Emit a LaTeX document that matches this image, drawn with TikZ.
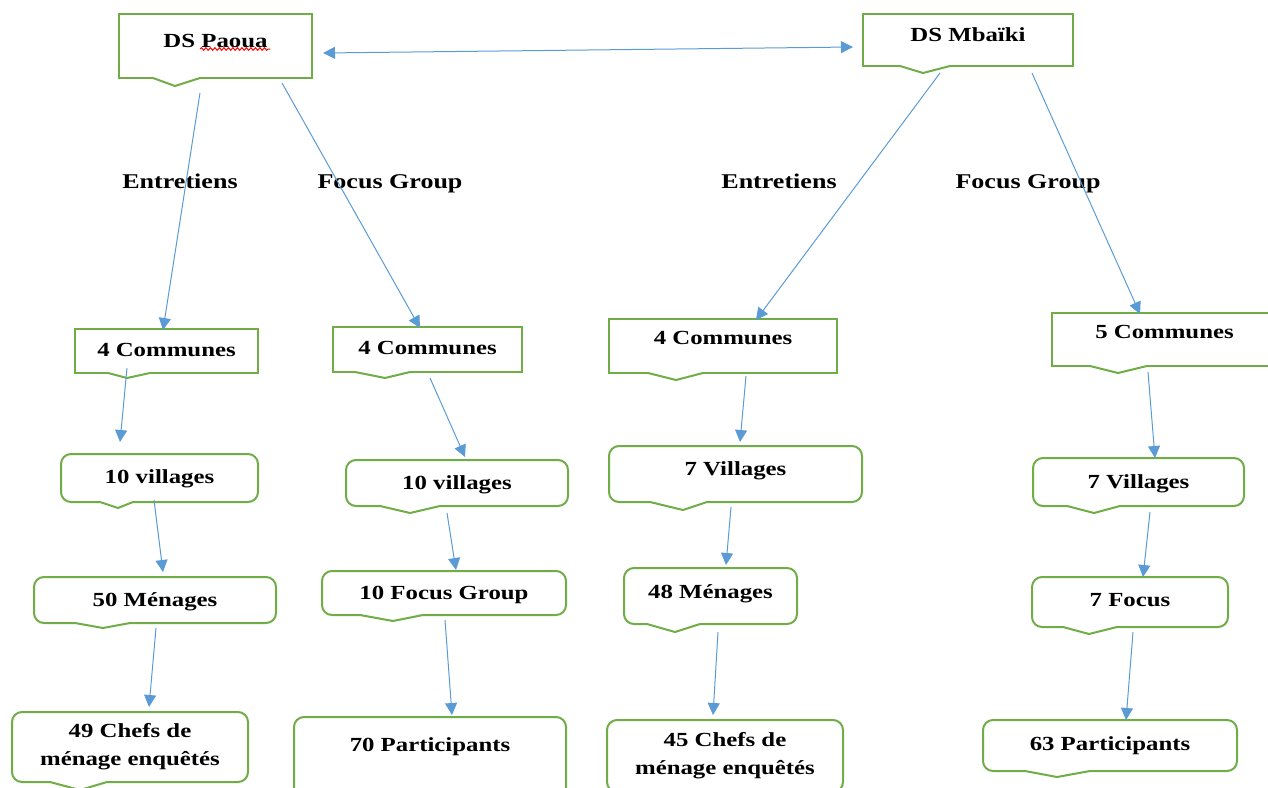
\documentclass[tikz,border=0pt]{standalone}
\usepackage{fontspec}
\setmainfont[FakeStretch=1.24]{Liberation Serif}
\usetikzlibrary{arrows.meta,decorations.pathmorphing}
\definecolor{bxgreen}{HTML}{70AD47}
\definecolor{arblue}{HTML}{5B9BD5}
\newcommand\ptr[5]{%
  \draw[white,line width=3pt] (#2,0 |- #1.south) -- (#4,0 |- #1.south);
  \draw[bxgreen,line width=2pt,line join=miter] (#2,0 |- #1.south) -- (#3,#5) -- (#4,0 |- #1.south);}
\begin{document}
\begin{tikzpicture}[x=1pt,y=-1pt,
  bx/.style={draw=bxgreen,line width=2pt,fill=white,outer sep=0pt,inner sep=0pt,anchor=north west,
    font=\bfseries\fontsize{20}{28}\selectfont,align=center},
  rbx/.style={bx,rounded corners=10pt},
  tofs/.style={text height=14pt,text depth=#1},
  lbl/.style={font=\bfseries\fontsize{21}{25}\selectfont,inner sep=0pt,text height=14pt,text depth=0.5pt},
  arr/.style={draw=arblue,line width=1pt,-{Triangle[length=12pt,width=12pt]}},
  darr/.style={draw=arblue,line width=1pt,{Triangle[length=12pt,width=12pt]}-{Triangle[length=12pt,width=12pt]}}]
\useasboundingbox (0,0) rectangle (1268,787);
\clip (0,0) rectangle (1268,787);
% top boxes
\node[bx,tofs=11.8pt,minimum width=193pt,minimum height=64pt] (p) at (119,14) {DS Paoua};
\node[bx,tofs=10.8pt,minimum width=210pt,minimum height=52pt] (m) at (863,14) {DS Mbaïki};
% level 1
\node[bx,tofs=2.8pt,minimum width=183pt,minimum height=44pt] (c1) at (75,329) {4 Communes};
\node[bx,tofs=3.8pt,minimum width=189pt,minimum height=45pt] (c2) at (333,327) {4 Communes};
\node[bx,tofs=16.8pt,minimum width=228pt,minimum height=54pt] (c3) at (609,319) {4 Communes};
\node[bx,tofs=16.8pt,minimum width=225pt,minimum height=53pt] (c4) at (1052,313) {5 Communes};
% level 2
\node[rbx,tofs=3.5pt,minimum width=197pt,minimum height=48pt] (v1) at (61,454) {10 villages};
\node[rbx,tofs=0.8pt,minimum width=222pt,minimum height=46pt] (v2) at (346,460) {10 villages};
\node[rbx,tofs=11.8pt,minimum width=253pt,minimum height=56pt] (v3) at (609,446) {7 Villages};
\node[rbx,tofs=0.8pt,minimum width=211pt,minimum height=48pt] (v4) at (1033,458) {7 Villages};
% level 3
\node[rbx,tofs=0.8pt,minimum width=242pt,minimum height=46pt] (g1) at (34,577) {50 Ménages};
\node[rbx,tofs=1.8pt,minimum width=244pt,minimum height=44pt] (g2) at (322,571) {10 Focus Group};
\node[rbx,tofs=8.8pt,minimum width=173pt,minimum height=56pt] (g3) at (624,568) {48 Ménages};
\node[rbx,tofs=4.8pt,minimum width=196pt,minimum height=50pt] (g4) at (1032,577) {7 Focus};
% level 4
\node[rbx,minimum width=236pt,minimum height=70pt] (h1) at (12,712) {49 Chefs de\\ménage enquêtés};
\node[rbx,tofs=29.8pt,minimum width=272pt,minimum height=85pt] (h2) at (294,717) {70 Participants};
\node[rbx,minimum width=236pt,minimum height=72pt] (h3) at (607,720) {45 Chefs de\\ménage enquêtés};
\node[rbx,tofs=4.8pt,minimum width=254pt,minimum height=51pt] (h4) at (983,720) {63 Participants};
% pointers
\ptr{p}{153}{175}{200}{86}
\ptr{m}{900}{923}{950}{73}
\ptr{c1}{108}{127}{150}{378}
\ptr{c2}{355}{385}{410}{378}
\ptr{c3}{648}{676}{703}{380}
\ptr{c4}{1090}{1118}{1147}{373}
\ptr{v1}{100}{118}{133}{508}
\ptr{v2}{380}{410}{440}{513}
\ptr{v3}{650}{683}{707}{510}
\ptr{v4}{1067}{1094}{1120}{513}
\ptr{g1}{75}{103}{130}{628}
\ptr{g2}{360}{393}{423}{621}
\ptr{g3}{647}{675}{700}{632}
\ptr{g4}{1063}{1089}{1117}{634}
\ptr{h1}{50}{80}{107}{790}
\ptr{h4}{1025}{1057}{1090}{777}
% spell-check squiggle
\draw[red,line width=1pt,decorate,decoration={snake,amplitude=1.3pt,segment length=4.5pt}]
  ([shift={(81,35)}]p.north west) -- ([shift={(151,35)}]p.north west);
% labels
\node[lbl] (e1) at (180,182) {Entretiens};
\node[lbl] (f1) at (390,182) {Focus Group};
\node[lbl] (e2) at (779,182) {Entretiens};
\node[lbl] (f2) at (1028,182) {Focus Group};
% connectors
\draw[darr] ([shift={(11,39)}]p.north east) -- ([shift={(-10,33)}]m.north west);
\draw[arr] ([shift={(81,79)}]p.north west) -- ([shift={(88,1)}]c1.north west);
\draw[arr] ([shift={(163,69)}]p.north west) -- ([shift={(87,1)}]c2.north west);
\draw[arr] ([shift={(77,59)}]m.north west) -- ([shift={(147,1)}]c3.north west);
\draw[arr] ([shift={(169,59)}]m.north west) -- ([shift={(88,1)}]c4.north west);
\draw[arr] ([shift={(52,39)}]c1.north west) -- ([shift={(59,-12)}]v1.north west);
\draw[arr] ([shift={(97,51)}]c2.north west) -- ([shift={(119,-3)}]v2.north west);
\draw[arr] ([shift={(137,57)}]c3.north west) -- ([shift={(131,-4)}]v3.north west);
\draw[arr] ([shift={(96,59)}]c4.north west) -- ([shift={(122,0)}]v4.north west);
\draw[arr] ([shift={(93,46)}]v1.north west) -- ([shift={(129,-5)}]g1.north west);
\draw[arr] ([shift={(101,53)}]v2.north west) -- ([shift={(134,-1)}]g2.north west);
\draw[arr] ([shift={(122,61)}]v3.north west) -- ([shift={(102,-3)}]g3.north west);
\draw[arr] ([shift={(117,54)}]v4.north west) -- ([shift={(111,0)}]g4.north west);
\draw[arr] ([shift={(122,51)}]g1.north west) -- ([shift={(137,-5)}]h1.north west);
\draw[arr] ([shift={(123,49)}]g2.north west) -- ([shift={(158,-2)}]h2.north west);
\draw[arr] ([shift={(94,64)}]g3.north west) -- ([shift={(106,-5)}]h3.north west);
\draw[arr] ([shift={(101,55)}]g4.north west) -- ([shift={(143,0)}]h4.north west);
\end{tikzpicture}
\end{document}
